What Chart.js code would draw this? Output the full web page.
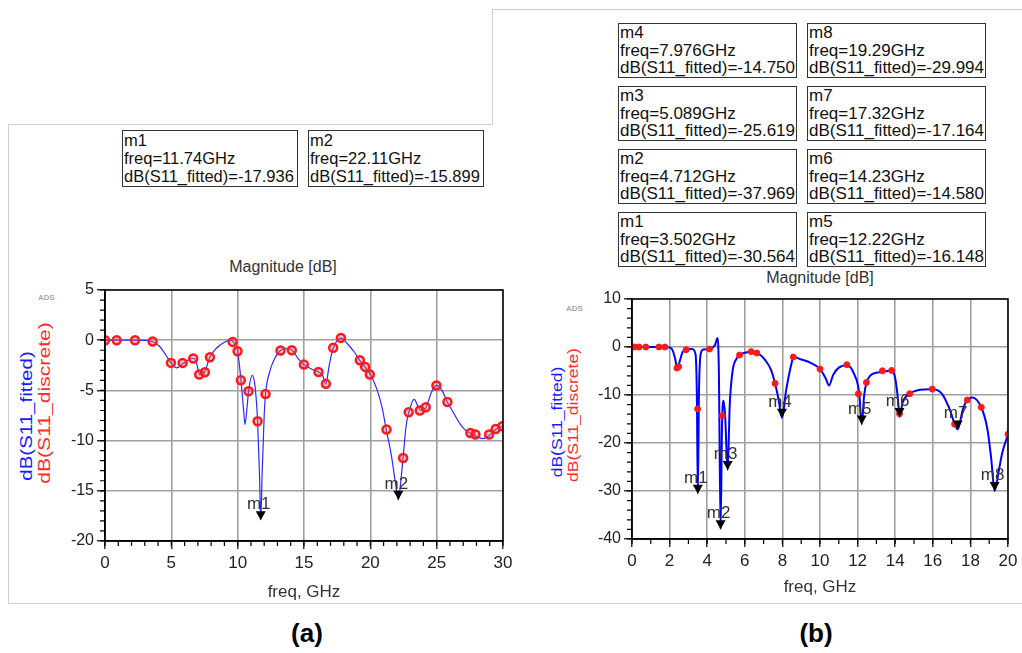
<!DOCTYPE html>
<html lang="en">
<head>
<meta charset="UTF-8">
<title>Magnitude [dB] - S11 fitted vs discrete</title>
<script src="https://cdn.jsdelivr.net/npm/chart.js"></script>
<style>
  body { margin: 0; background: #fff; font-family: "Liberation Sans", Arial, sans-serif; }
  #page { position: relative; width: 1022px; height: 653px; overflow: hidden; }
  .rule { position: absolute; background: #d0d0d0; }
  .cv { position: absolute; }
  .mbox { position: absolute; border: 1.5px solid #333; box-sizing: border-box; color: #111;
          white-space: nowrap; padding-left: 1px; }
  .ytitle { position: absolute; white-space: nowrap; }
  .ads { position: absolute; font-size: 8px; font-weight: bold; color: #aaa; }
  .mag { position: absolute; font-size: 16px; color: #333; transform: translate(-50%, -50%); white-space: nowrap; }
  .tag { position: absolute; font-size: 26px; font-weight: bold; color: #000; transform: translate(-50%, -50%); }
</style>
</head>
<body>
<div id="page">
  <!-- panel outlines -->
  <div class="rule" style="left:8px;top:124px;width:1px;height:479px"></div>
  <div class="rule" style="left:8px;top:124px;width:484px;height:1px"></div>
  <div class="rule" style="left:492px;top:9px;width:1px;height:116px"></div>
  <div class="rule" style="left:492px;top:9px;width:530px;height:1px"></div>
  <div class="rule" style="left:8px;top:603px;width:1014px;height:1px"></div>

  <div class="mag" style="left:283px;top:267px">Magnitude [dB]</div>
  <div class="mag" style="left:820px;top:278px">Magnitude [dB]</div>

  <div class="ads" style="left:38px;top:293px">ADS</div>
  <div class="ads" style="left:566px;top:304px">ADS</div>

  <div class="ytitle" style="left:27px;top:416px;font-size:16px;color:#1a1aff;transform:translate(-50%,-50%) rotate(-90deg) scaleX(1.28)">dB(S11_fitted)</div>
  <div class="ytitle" style="left:45px;top:403px;font-size:16px;color:#ff2a2a;transform:translate(-50%,-50%) rotate(-90deg) scaleX(1.32)">dB(S11_discrete)</div>
  <div class="ytitle" style="left:557px;top:422px;font-size:14px;color:#1a1aff;transform:translate(-50%,-50%) rotate(-90deg) scaleX(1.25)">dB(S11_fitted)</div>
  <div class="ytitle" style="left:573px;top:415px;font-size:14px;color:#ff2a2a;transform:translate(-50%,-50%) rotate(-90deg) scaleX(1.25)">dB(S11_discrete)</div>

  <canvas id="chartA" class="cv" width="520" height="333" style="left:10px;top:270px"></canvas>
  <canvas id="chartB" class="cv" width="482" height="323" style="left:540px;top:280px"></canvas>

  <div class="tag" style="left:307px;top:633px">(a)</div>
  <div class="tag" style="left:816px;top:633px">(b)</div>
</div>

<script>
// ---- panel (a): 0-30 GHz ----
const fitFreqA = [0, 1, 2, 3, 3.6, 4.1, 4.6, 5.0, 5.4, 5.9, 6.4, 6.7, 6.9, 7.15, 7.5, 7.9, 8.4, 9.0, 9.5, 9.7,
  10.0, 10.25, 10.45, 10.55, 10.7, 10.82, 11.1, 11.3, 11.5, 11.65, 11.74, 11.85, 12.0, 12.1, 12.4, 12.8, 13.2,
  13.7, 14.1, 14.6, 15.0, 15.6, 16.1, 16.4, 16.65, 16.9, 17.2, 17.6, 17.8, 18.3, 18.8, 19.2, 19.6, 20.0, 20.5,
  20.9, 21.2, 21.6, 21.9, 22.11, 22.3, 22.47, 22.7, 22.9, 23.3, 23.6, 23.8, 24.2, 24.6, 25.0, 25.4, 25.8, 26.3,
  26.8, 27.2, 27.6, 28.0, 28.5, 29.0, 29.5, 30];
const fitDbA = [0, 0, 0, -0.02, -0.15, -0.6, -1.5, -2.3, -2.75, -2.3, -1.9, -1.8, -2.3, -3.45, -3.2, -1.7, -0.8, -0.2, 0, -0.2,
  -1.1, -4.0, -7.0, -8.4, -6.8, -5.1, -3.5, -4.5, -8.0, -13.5, -17.9, -13.0, -7.5, -5.35, -3.2, -1.8, -1.05,
  -0.8, -1.0, -1.9, -2.43, -2.9, -3.16, -3.5, -4.35, -2.5, -0.8, 0.1, 0.2, -0.4, -1.2, -2.0, -2.66, -3.42, -4.9,
  -6.8, -8.9, -11.6, -14.3, -15.9, -14.0, -11.7, -8.5, -7.2, -5.9, -6.6, -7.0, -6.7, -5.2, -4.5, -5.0, -6.15, -7.3,
  -8.4, -9.0, -9.3, -9.6, -9.8, -9.45, -8.84, -8.57];
const discFreqA = [0, 0.88, 2.26, 3.59, 4.97, 5.85, 6.65, 7.1, 7.53, 7.91, 9.62, 9.99, 10.24, 10.82, 11.5, 12.1,
  13.23, 14.08, 14.99, 16.09, 16.65, 17.2, 17.78, 19.21, 19.61, 19.96, 21.22, 22.47, 22.89, 23.73, 24.18, 24.98,
  25.81, 27.54, 27.92, 28.95, 29.45, 29.95];
const discDbA = [0, 0, 0, -0.13, -2.26, -2.26, -1.83, -3.42, -3.19, -1.69, -0.17, -1.1, -3.99, -5.08, -8.07, -5.35,
  -1.03, -1.0, -2.43, -3.16, -4.35, -0.76, 0.23, -1.99, -2.66, -3.42, -8.9, -11.73, -7.18, -7.01, -6.68, -4.52,
  -6.15, -9.24, -9.4, -9.4, -8.84, -8.57];
const markerNamesA = ['m1', 'm2'];
const markerFreqA = [11.74, 22.11];
const markerDbA = [-17.936, -15.899];

// ---- panel (b): 0-20 GHz ----
const fitFreqB = [0, 1, 1.8, 2.1, 2.3, 2.4, 2.5, 2.7, 2.9, 3.2, 3.38, 3.45, 3.502, 3.56, 3.65, 3.8, 4.1, 4.4, 4.55,
  4.62, 4.712, 4.79, 4.87, 4.95, 5.089, 5.2, 5.35, 5.55, 5.75, 6.0, 6.34, 6.7, 7.1, 7.4, 7.61, 7.8, 7.976, 8.2,
  8.45, 8.6, 9.0, 9.5, 10.0, 10.3, 10.48, 10.7, 11.0, 11.45, 11.8, 12.09, 12.22, 12.35, 12.48, 12.8, 13.33, 13.81,
  14.0, 14.15, 14.23, 14.4, 14.77, 15.2, 15.97, 16.5, 16.9, 17.32, 17.6, 17.83, 18.1, 18.58, 18.9, 19.1, 19.29,
  19.5, 19.7, 20.0];
const fitDbB = [0, 0, 0, -0.3, -2.5, -4.7, -3.5, -1.0, -0.5, -0.4, -1.5, -10, -30.56, -10, -1.5, -0.5, -0.4, 0.3, 1.9,
  -5, -37.97, -16, -11.2, -14, -25.6, -12, -5, -2.5, -1.6, -1.2, -0.97, -1.3, -2.8, -4.8, -7.6, -11, -14.75, -9,
  -4, -2.1, -2.6, -3.3, -4.6, -6.5, -8.0, -5.8, -4.3, -3.8, -5.5, -9.7, -16.1, -10, -7.4, -5.6, -5.2, -4.9,
  -6.5, -11, -14.58, -11.5, -9.74, -9.0, -8.8, -9.8, -13, -17.16, -13, -11.0, -10.5, -12.6, -17, -23, -29.99,
  -26, -22, -18.2];
const discFreqB = [0, 0.12, 0.37, 0.73, 1.43, 1.75, 2.39, 2.48, 2.88, 3.49, 4.12, 4.81, 5.72, 6.34, 6.64, 7.61, 8.58,
  10.0, 11.43, 12.04, 12.47, 13.32, 13.81, 14.23, 14.77, 15.97, 17.16, 17.83, 18.58, 20.0];
const discDbB = [0, 0, 0, 0, 0, 0, -4.4, -4.1, -0.56, -12.9, -0.42, -14.3, -1.67, -0.97, -1.25, -7.58, -2.09,
  -4.6, -3.7, -9.74, -7.39, -4.95, -4.88, -13.9, -9.74, -8.77, -16.07, -11.05, -12.57, -18.2];
const markerNamesB = ['m1', 'm2', 'm3', 'm4', 'm5', 'm6', 'm7', 'm8'];
const markerFreqB = [3.502, 4.712, 5.089, 7.976, 12.22, 14.23, 17.32, 19.29];
const markerDbB = [-30.564, -37.969, -25.619, -14.750, -16.148, -14.580, -17.164, -29.994];

const FONT = '"Liberation Sans", Arial, sans-serif';
const GRID = '#a0a0a0';

function pts(xs, ys) {
  return xs.map((x, i) => ({ x: x, y: ys[i] }));
}

// readout boxes above each plot
function addBox(name, f, db, left, top, w, h, fs, lh) {
  const d = document.createElement('div');
  d.className = 'mbox';
  d.style.cssText = `left:${left}px;top:${top}px;width:${w}px;height:${h}px;font-size:${fs}px;line-height:${lh}px`;
  d.innerHTML = `${name}<br>freq=${f.toPrecision(4)}GHz<br>dB(S11_fitted)=${db.toFixed(3)}`;
  document.getElementById('page').appendChild(d);
}
markerNamesA.forEach((n, i) => addBox(n, markerFreqA[i], markerDbA[i], [122, 308][i], 130, 176, 57, 16.5, 18));
markerNamesB.forEach((n, i) => {
  const col = Math.floor(i / 4), row = 3 - (i % 4);
  addBox(n, markerFreqB[i], markerDbB[i], [618, 807][col], 23 + row * 63, 179, 55, 17, 17.5);
});

// black frame round the plot area + minor tick marks on the bottom/left axes
const framePlugin = {
  id: 'frame',
  afterDraw(chart, args, opts) {
    const { ctx, chartArea: a } = chart;
    const x = chart.scales.x, y = chart.scales.y;
    ctx.save();
    ctx.strokeStyle = '#000';
    ctx.lineWidth = 1.2;
    ctx.beginPath();
    const nx = Math.round((x.max - x.min) / opts.xMinor);
    for (let k = 0; k <= nx; k++) {
      const px = x.getPixelForValue(x.min + k * opts.xMinor);
      ctx.moveTo(px, a.bottom);
      ctx.lineTo(px, a.bottom + 5);
    }
    const ny = Math.round((y.max - y.min) / opts.yMinor);
    for (let k = 0; k <= ny; k++) {
      const py = y.getPixelForValue(y.min + k * opts.yMinor);
      ctx.moveTo(a.left - 5, py);
      ctx.lineTo(a.left, py);
    }
    ctx.stroke();
    ctx.lineWidth = 1.5;
    ctx.strokeRect(a.left, a.top, a.right - a.left, a.bottom - a.top);
    ctx.restore();
  }
};

// ADS style marker arrows + names
const markerPlugin = {
  id: 'markers',
  afterDatasetsDraw(chart, args, opts) {
    const xs = chart.scales.x, ys = chart.scales.y, ctx = chart.ctx;
    ctx.save();
    opts.names.forEach((name, i) => {
      const px = xs.getPixelForValue(opts.freq[i]);
      const py = ys.getPixelForValue(opts.db[i]);
      ctx.fillStyle = '#000';
      ctx.beginPath();
      ctx.moveTo(px, py);
      ctx.lineTo(px - opts.w / 2, py - opts.h);
      ctx.lineTo(px + opts.w / 2, py - opts.h);
      ctx.closePath();
      ctx.fill();
      ctx.fillStyle = '#333';
      ctx.font = `${opts.fontSize}px ${FONT}`;
      ctx.textAlign = 'center';
      ctx.textBaseline = 'alphabetic';
      ctx.fillText(name, px - 2, py - opts.h - 2);
    });
    ctx.restore();
  }
};

function makeChart(id, o) {
  new Chart(document.getElementById(id), {
    type: 'scatter',
    data: {
      datasets: [
        {
          label: 'dB(S11_discrete)',
          data: pts(o.discF, o.discD),
          showLine: false,
          pointStyle: 'circle',
          pointRadius: o.ptR,
          borderColor: '#ff1a1a',
          backgroundColor: o.ptFill,
          borderWidth: o.ptW
        },
        {
          label: 'dB(S11_fitted)',
          data: pts(o.fitF, o.fitD),
          showLine: true,
          borderColor: o.lineColor,
          borderWidth: o.lineW,
          pointRadius: 0,
          cubicInterpolationMode: 'monotone'
        }
      ]
    },
    options: {
      responsive: false,
      animation: false,
      layout: { padding: { left: 0, top: o.padTop, right: o.padRight, bottom: 0 } },
      plugins: {
        legend: { display: false },
        tooltip: { enabled: false },
        markers: { names: o.mNames, freq: o.mFreq, db: o.mDb, w: 10, h: 9, fontSize: 17 },
        frame: { xMinor: o.xMinor, yMinor: o.yMinor }
      },
      scales: {
        x: {
          type: 'linear', min: 0, max: o.xMax,
          afterFit(s) { s.height = o.xAxisH; },
          ticks: {
            stepSize: o.xGrid, autoSkip: false, maxRotation: 0, padding: 4,
            color: '#222', font: { family: FONT, size: 17 }
          },
          grid: { color: GRID, lineWidth: 1.6, tickColor: '#000', tickWidth: 1.2, tickLength: 8 },
          border: { color: '#000', width: 1.5 },
          title: {
            display: true, text: 'freq, GHz', color: '#333',
            font: { family: FONT, size: 17 }, padding: { top: 0, bottom: o.titlePad }
          }
        },
        y: {
          type: 'linear', min: o.yMin, max: o.yMax,
          afterFit(s) { s.width = o.yAxisW; },
          ticks: {
            stepSize: o.yGrid, autoSkip: false, padding: 3,
            color: '#222', font: { family: FONT, size: 16 }
          },
          grid: { color: GRID, lineWidth: 1.6, tickColor: '#000', tickWidth: 1.2, tickLength: 8 },
          border: { color: '#000', width: 1.5 }
        }
      }
    },
    plugins: [framePlugin, markerPlugin]
  });
}

makeChart('chartA', {
  fitF: fitFreqA, fitD: fitDbA, discF: discFreqA, discD: discDbA,
  mNames: markerNamesA, mFreq: markerFreqA, mDb: markerDbA,
  xMax: 30, xGrid: 5, xMinor: 1, yMin: -20, yMax: 5, yGrid: 5, yMinor: 1,
  padTop: 20, padRight: 27, xAxisH: 62, yAxisW: 95, titlePad: 0,
  lineColor: '#2a2aff', lineW: 1.2, ptR: 4, ptW: 2.5, ptFill: 'rgba(255,90,90,0.35)'
});

makeChart('chartB', {
  fitF: fitFreqB, fitD: fitDbB, discF: discFreqB, discD: discDbB,
  mNames: markerNamesB, mFreq: markerFreqB, mDb: markerDbB,
  xMax: 20, xGrid: 2, xMinor: 1, yMin: -40, yMax: 10, yGrid: 10, yMinor: 2,
  padTop: 19, padRight: 14, xAxisH: 64, yAxisW: 92, titlePad: 5,
  lineColor: '#0000ff', lineW: 2, ptR: 3, ptW: 1, ptFill: '#ff1a1a'
});
</script>
</body>
</html>
